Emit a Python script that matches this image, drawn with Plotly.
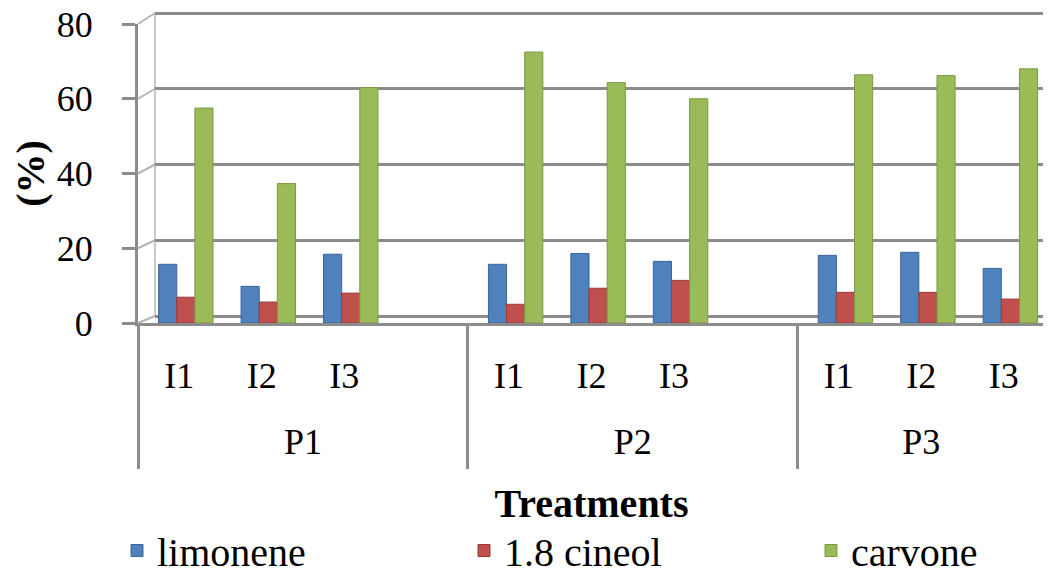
import plotly.graph_objects as go

# ---- data ----
groups = ["P1", "P1", "P1", "P1", "P2", "P2", "P2", "P2", "P3", "P3", "P3"]
levels = ["I1", "I2", "I3", "", "I1", "I2", "I3", "", "I1", "I2", "I3"]
limonene = [15.7, 9.8, 18.4, None, 15.7, 18.6, 16.5, None, 18.1, 18.9, 14.6]
cineol = [6.9, 5.6, 8.0, None, 5.0, 9.3, 11.4, None, 8.2, 8.2, 6.4]
carvone = [57.5, 37.3, 63.0, None, 72.5, 64.3, 60.0, None, 66.4, 66.2, 68.0]
series_names = ["limonene", "1.8 cineol", "carvone"]
colors = ["#4F81BD", "#C0504D", "#9BBB59"]
edge_colors = ["#3A6699", "#9A3B38", "#7A9A44"]
y_ticks = [0, 20, 40, 60, 80]

# category keys and group geometry (derived from the lists above)
keys = [f"{g}|{l or i}" for i, (g, l) in enumerate(zip(groups, levels))]
group_names = list(dict.fromkeys(groups))
group_idx = {g: [i for i, gg in enumerate(groups) if gg == g] for g in group_names}
group_centers = [sum(v) / len(v) for v in group_idx.values()]
group_bounds = [group_idx[g][0] - 0.5 for g in group_names] + [len(groups) - 0.5]

# ---- layout constants (reference-image pixels; page has an 8px body margin) ----
OFF = 8
W, Hfig = 1051 - OFF, 577 - OFF
plot_top_ref, base_ref = 8, 323
L = 138 - OFF
R = 0
T = plot_top_ref - OFF
B = Hfig - (base_ref - OFF)
PW = W - L - R
PH = Hfig - T - B
front_right = 907
front_top = 24
back_dx = 17
back_bottom, back_top = 316, 13
unit_back = (back_bottom - back_top) / 80.0

FONT = "Liberation Serif, Times New Roman, serif"
GRID = "#8c8c8c"

def px_to_paper_x(px_ref):
    return (px_ref - 138) / PW

def px_to_paper_y(py_ref):
    return (base_ref - py_ref) / PH

fig = go.Figure()

# empty traces so the helper axes render
fig.add_trace(go.Scatter(x=[], y=[], xaxis="x", yaxis="y", showlegend=False, hoverinfo="skip"))
fig.add_trace(go.Scatter(x=[], y=[], xaxis="x3", yaxis="y2", showlegend=False, hoverinfo="skip"))
fig.add_trace(go.Scatter(x=[], y=[], xaxis="x4", yaxis="y2", showlegend=False, hoverinfo="skip"))

offsets = [-0.25, -0.03, 0.19]
for name, vals, c, ec, off in zip(series_names, [limonene, cineol, carvone], colors, edge_colors, offsets):
    fig.add_trace(go.Bar(
        x=keys, y=vals, name=name, xaxis="x2", yaxis="y2",
        marker=dict(color=c, line=dict(color=ec, width=1)),
        width=0.22, offset=off,
    ))

shapes = []
for v in y_ticks:
    fy = base_ref - v / 80 * (base_ref - front_top)
    by = back_bottom - v / 80 * (back_bottom - back_top)
    shapes.append(dict(type="line", xref="paper", yref="paper",
                       x0=px_to_paper_x(138), y0=px_to_paper_y(fy),
                       x1=px_to_paper_x(138 + back_dx), y1=px_to_paper_y(by),
                       line=dict(color="#b5b5b5", width=2)))
shapes.append(dict(type="line", xref="paper", yref="paper",
                   x0=px_to_paper_x(138 + front_right), y0=px_to_paper_y(base_ref),
                   x1=px_to_paper_x(1051), y1=px_to_paper_y(back_bottom - 1),
                   line=dict(color="#b5b5b5", width=2)))
shapes.append(dict(type="line", xref="paper", yref="paper",
                   x0=px_to_paper_x(138 + back_dx), y0=px_to_paper_y(back_bottom),
                   x1=px_to_paper_x(138 + back_dx), y1=px_to_paper_y(back_top),
                   line=dict(color="#c8c8c8", width=2), layer="below"))

xr = [-0.5, len(groups) - 0.5]
fdom = [0, front_right / PW]

fig.update_layout(
    template="none",
    width=W, height=Hfig,
    margin=dict(l=L, r=R, t=T, b=B, pad=0, autoexpand=False),
    paper_bgcolor="white", plot_bgcolor="rgba(0,0,0,0)",
    font=dict(family=FONT, size=40, color="black"),
    barmode="group",
    showlegend=True,
    legend=dict(orientation="h", x=px_to_paper_x(117), xanchor="left",
                y=px_to_paper_y(583), yanchor="bottom",
                entrywidth=302, entrywidthmode="pixels",
                font=dict(family=FONT, size=40), itemwidth=30,
                tracegroupgap=0, bgcolor="rgba(0,0,0,0)", borderwidth=0),
    # back wall (grid)
    xaxis=dict(domain=[back_dx / PW, 1], range=[0, 1], visible=False, anchor="y",
               automargin=False),
    yaxis=dict(domain=[px_to_paper_y(back_bottom + unit_back), px_to_paper_y(back_top - unit_back)],
               range=[-1, 81], tickvals=y_ticks, showticklabels=False, ticks="",
               showgrid=True, gridcolor=GRID, gridwidth=3, zeroline=False,
               showline=False, anchor="x", automargin=False),
    # front category axis (level 1 labels)
    xaxis2=dict(domain=fdom, anchor="y2", type="category",
                categoryorder="array", categoryarray=keys,
                tickvals=keys, ticktext=levels,
                range=xr, automargin=False,
                showline=True, linecolor=GRID, linewidth=3,
                ticks="", ticklabelstandoff=19, showgrid=False, zeroline=False,
                ticklabeloverflow="allow",
                tickfont=dict(family=FONT, size=36, color="black")),
    # group dividers
    xaxis3=dict(overlaying="x2", anchor="y2", side="bottom", range=xr,
                tickvals=group_bounds, showticklabels=False,
                ticks="outside", ticklen=145, tickwidth=3, tickcolor=GRID,
                showline=False, showgrid=False, zeroline=False, automargin=False),
    # group labels (level 2) + axis title
    xaxis4=dict(overlaying="x2", anchor="y2", side="bottom", range=xr,
                tickvals=group_centers, ticktext=group_names,
                ticks="", ticklabelstandoff=94, ticklabeloverflow="allow",
                showline=False, showgrid=False, zeroline=False, automargin=False,
                tickfont=dict(family=FONT, size=36, color="black"),
                title=dict(text="Treatments", standoff=27,
                           font=dict(family=FONT, size=40, weight="bold"))),
    yaxis2=dict(domain=[0, px_to_paper_y(front_top)], anchor="x2",
                range=[0, 80], tickvals=y_ticks, showgrid=False, zeroline=False,
                showline=True, linecolor=GRID, linewidth=3, automargin=False,
                ticks="outside", ticklen=13, tickwidth=3, tickcolor=GRID,
                ticklabelstandoff=22, ticklabeloverflow="allow",
                tickfont=dict(family=FONT, size=36, color="black"),
                title=dict(text="(%)", standoff=8,
                           font=dict(family=FONT, size=40, weight="bold"))),
    shapes=shapes,
)

fig.write_html("out.html")
